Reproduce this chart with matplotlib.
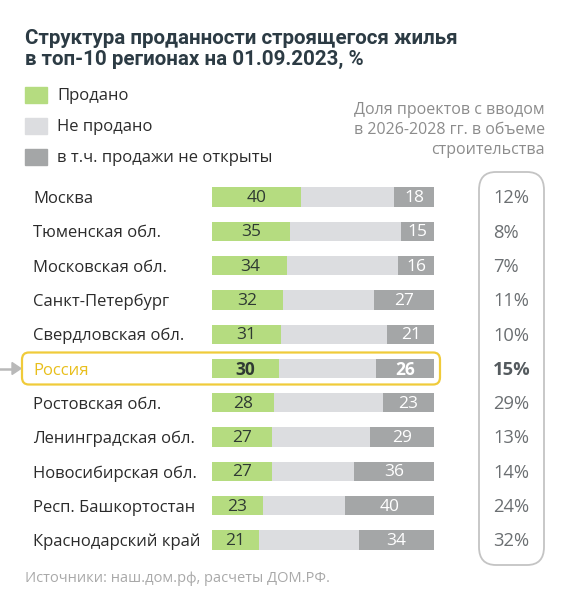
import matplotlib
matplotlib.use("Agg")
import matplotlib.pyplot as plt
from matplotlib.patches import FancyBboxPatch, Rectangle
from matplotlib.transforms import blended_transform_factory

plt.rcParams['font.family'] = ['Open Sans', 'DejaVu Sans']

regions = ["Москва", "Тюменская обл.", "Московская обл.", "Санкт-Петербург",
           "Свердловская обл.", "Россия", "Ростовская обл.", "Ленинградская обл.",
           "Новосибирская обл.", "Респ. Башкортостан", "Краснодарский край"]
sold = [40, 35, 34, 32, 31, 30, 28, 27, 27, 23, 21]
closed = [18, 15, 16, 27, 21, 26, 23, 29, 36, 40, 34]
share_2026 = [12, 8, 7, 11, 10, 15, 29, 13, 14, 24, 32]
highlight = "Россия"

GREEN = "#b5dc80"
LIGHT = "#dcdde0"
DARK = "#a4a6a7"
TITLE_C = "#2c3b44"
TEXT_C = "#2b2b2b"
YELLOW = "#f0cb3a"

W, H = 565, 600
fig = plt.figure(figsize=(W / 100, H / 100), dpi=100)


def fx(x):
    return x / W


def fy(y):
    return 1 - y / H


# axes for bars: x 0..100 -> px 212..434, rows centred at 197..540
row_top, row_bot = 179.85, 557.15
ax = fig.add_axes([fx(212), fy(row_bot), fx(434) - fx(212), (row_bot - row_top) / H])
ax.set_xlim(0, 100)
ax.set_ylim(len(regions) - 0.5, -0.5)
ax.axis("off")

ys = list(range(len(regions)))
bh = 0.56
ax.barh(ys, [100] * len(ys), height=bh, color=LIGHT)
ax.barh(ys, sold, height=bh, color=GREEN)
ax.barh(ys, closed, left=[100 - c for c in closed], height=bh, color=DARK)

trans = blended_transform_factory(fig.transFigure, ax.transData)
for i, name in enumerate(regions):
    hl = name == highlight
    fw = "bold" if hl else "normal"
    ax.text(sold[i] / 2, i + 0.03, str(sold[i]), ha="center", va="center",
            fontsize=12.5, color="#2f3a33", fontweight=fw)
    ax.text(100 - closed[i] / 2, i + 0.03, str(closed[i]), ha="center", va="center",
            fontsize=12.5, color="white", fontweight=fw)
    ax.text(fx(33), i + 0.06, name, transform=trans, ha="left", va="center",
            fontsize=12, color="#e8bf1c" if hl else TEXT_C)
    ax.text(fx(493), i + 0.04, f"{share_2026[i]}%", transform=trans, ha="left", va="center",
            fontsize=13.2, color="#555b5f" if hl else "#6b6f72", fontweight=fw)

# highlight frame and arrow for Russia
ri = regions.index(highlight)
ry = fig.transFigure.inverted().transform(ax.transData.transform((0, ri)))[1]
fig.patches.append(FancyBboxPatch((fx(22), ry - 16 / H), fx(440) - fx(22), 32 / H,
                                  boxstyle="round,pad=0,rounding_size=0.012",
                                  transform=fig.transFigure, fill=False,
                                  edgecolor=YELLOW, linewidth=1.6))
fig.add_artist(plt.Line2D([0, fx(13)], [ry, ry], color="#b9b9b9", lw=1.8,
                          transform=fig.transFigure))
fig.add_artist(plt.Polygon([[fx(12), ry + 6 / H], [fx(21), ry], [fx(12), ry - 6 / H]],
                           closed=True, color="#b9b9b9", transform=fig.transFigure))

# right rounded box
fig.patches.append(FancyBboxPatch((fx(479), fy(565)), fx(544) - fx(479), (565 - 172) / H,
                                  boxstyle="round,pad=0,rounding_size=0.03",
                                  transform=fig.transFigure, fill=False,
                                  edgecolor="#c4c4c4", linewidth=1.3))

# title
fig.text(fx(25), fy(49), "Структура проданности строящегося жилья\nв топ-10 регионах на 01.09.2023, %",
         ha="left", va="center", fontsize=14.8, fontweight="bold", color=TITLE_C,
         linespacing=1.15, family=["Roboto", "DejaVu Sans"])

# legend
legend_items = [(GREEN, "Продано"), (LIGHT, "Не продано"), (DARK, "в т.ч. продажи не открыты")]
for k, (c, lab) in enumerate(legend_items):
    yc = 95 + k * 31
    fig.patches.append(Rectangle((fx(25), fy(yc + 8)), 22 / W, 16 / H, color=c,
                                 transform=fig.transFigure))
    fig.text(fx(57), fy(yc + 1), lab, ha="left", va="center", fontsize=12, color=TEXT_C)

fig.text(fx(545), fy(130), "Доля проектов с вводом\nв 2026-2028 гг. в объеме\nстроительства",
         ha="right", va="center", fontsize=11.5, color="#8c8c8c", linespacing=1.3)

fig.text(fx(25), fy(578), "Источники: наш.дом.рф, расчеты ДОМ.РФ.", ha="left", va="center",
         fontsize=10.5, color="#a9a9a9")

fig.savefig("out.png", dpi=100, facecolor="white")
